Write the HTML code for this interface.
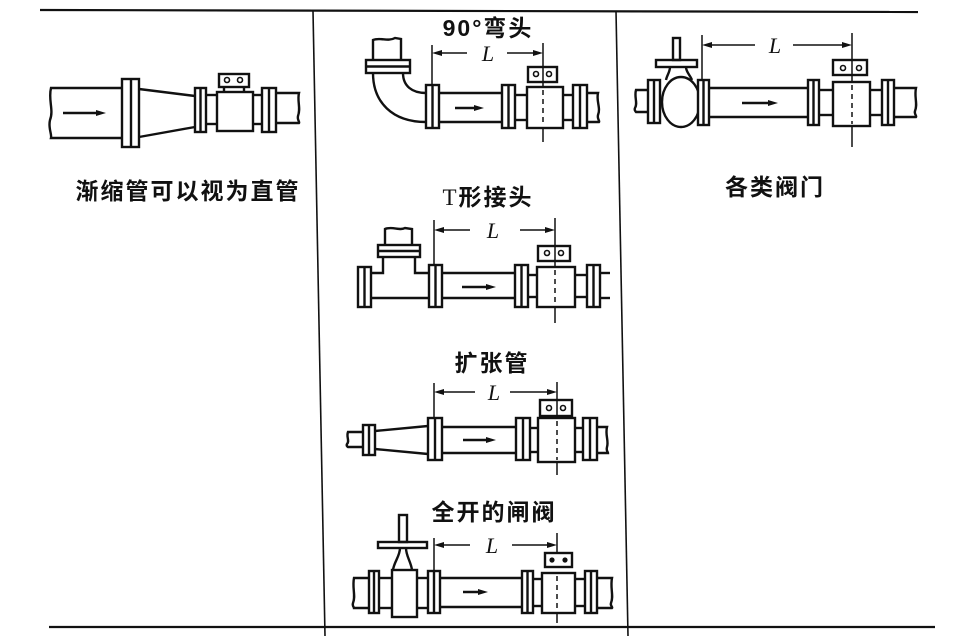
<!DOCTYPE html>
<html><head><meta charset="utf-8"><style>
html,body{margin:0;padding:0;background:#fff;}
svg{display:block;}
.t{font-family:"Liberation Sans","Noto Sans CJK SC",sans-serif;font-weight:bold;font-size:23px;fill:#111;letter-spacing:2px;}
.L{font-family:"Liberation Serif",serif;font-style:italic;font-size:22px;fill:#111;}
</style></head><body>
<svg width="953" height="636" viewBox="0 0 953 636" xmlns="http://www.w3.org/2000/svg">
<g stroke="#111" fill="none" stroke-width="2.4">
<!-- table lines -->
<line x1="40" y1="10" x2="918" y2="12" stroke-width="2.2"/>
<line x1="49" y1="627" x2="935" y2="627" stroke-width="2.2"/>
<line x1="313" y1="11" x2="325" y2="636" stroke-width="1.6"/>
<line x1="616" y1="11" x2="628" y2="636" stroke-width="1.6"/>

<!-- ===== Panel 1 ===== -->
<path d="M122,88 L51,88 C48,100 54,110 50,120 C48,128 52,134 51,138 L122,138"/>
<rect x="122" y="79" width="17" height="68"/><line x1="131" y1="79" x2="131" y2="147"/>
<line x1="139" y1="89" x2="195" y2="96"/><line x1="139" y1="137" x2="195" y2="127"/>
<rect x="195" y="88" width="11" height="44"/><line x1="200.5" y1="88" x2="200.5" y2="132"/>
<line x1="206" y1="95" x2="217" y2="95"/><line x1="206" y1="124" x2="217" y2="124"/>
<rect x="217" y="92" width="36" height="39"/>
<rect x="219" y="74" width="30" height="13"/>
<circle cx="227" cy="80" r="2.5" stroke-width="1.6"/><circle cx="240" cy="80" r="2.5" stroke-width="1.6"/>
<line x1="224" y1="87" x2="224" y2="92"/><line x1="244" y1="87" x2="244" y2="92"/>
<line x1="253" y1="95" x2="262" y2="95"/><line x1="253" y1="124" x2="262" y2="124"/>
<rect x="262" y="88" width="14" height="44"/><line x1="269" y1="88" x2="269" y2="132"/>
<path d="M276,93 L299,93 C297,101 301,108 298,116 C297,120 300,122 299,123 L276,123"/>
<line x1="63" y1="113" x2="98" y2="113"/>

<!-- ===== Panel 2: elbow ===== -->
<path d="M373,60 L373,40 C380,37 388,42 395,38 L401,39 L401,60"/>
<rect x="366" y="60" width="44" height="13"/><line x1="366" y1="66.5" x2="410" y2="66.5"/>
<path d="M373,73 C373,102 392,122 426,122"/>
<path d="M403,73 C403,86 412,93 426,93"/>
<rect x="426" y="85" width="13" height="43"/><line x1="432.5" y1="85" x2="432.5" y2="128"/>
<line x1="439" y1="93" x2="502" y2="93"/><line x1="439" y1="122" x2="502" y2="122"/>
<line x1="455" y1="108" x2="476" y2="108"/>
<rect x="502" y="85" width="13" height="43"/><line x1="508.5" y1="85" x2="508.5" y2="128"/>
<line x1="515" y1="95" x2="527" y2="95"/><line x1="515" y1="120" x2="527" y2="120"/>
<rect x="527" y="87" width="36" height="41"/>
<rect x="528" y="67" width="29" height="15"/>
<circle cx="536" cy="74" r="2.5" stroke-width="1.6"/><circle cx="549" cy="74" r="2.5" stroke-width="1.6"/>
<line x1="563" y1="95" x2="573" y2="95"/><line x1="563" y1="120" x2="573" y2="120"/>
<rect x="573" y="85" width="14" height="43"/><line x1="580" y1="85" x2="580" y2="128"/>
<path d="M587,93 L598,93 C596,101 601,108 598,115 C597,119 600,121 599,122 L587,122"/>
<g stroke-width="1.5">
<line x1="432" y1="45" x2="432" y2="85"/>
<line x1="543" y1="43" x2="543" y2="87"/><line x1="543" y1="128" x2="543" y2="142"/>
<line x1="543" y1="90" x2="543" y2="126" stroke-dasharray="5,4"/>
<line x1="438" y1="53" x2="467" y2="53"/><line x1="507" y1="53" x2="537" y2="53"/>
</g>

<!-- ===== Panel 2: T joint ===== -->
<rect x="358" y="267" width="13" height="40"/><line x1="364.5" y1="267" x2="364.5" y2="307"/>
<path d="M371,273 L383,273 L383,257"/><path d="M415,257 L415,273 L429,273"/>
<line x1="371" y1="298" x2="429" y2="298"/>
<rect x="378" y="245" width="42" height="12"/><line x1="378" y1="251" x2="420" y2="251"/>
<path d="M385,245 L385,229 C392,226 400,231 405,228 L412,229 L412,245"/>
<rect x="429" y="265" width="13" height="42"/><line x1="435.5" y1="265" x2="435.5" y2="307"/>
<line x1="442" y1="273" x2="515" y2="273"/><line x1="442" y1="298" x2="515" y2="298"/>
<line x1="462" y1="287" x2="488" y2="287"/>
<rect x="515" y="265" width="13" height="42"/><line x1="521.5" y1="265" x2="521.5" y2="307"/>
<line x1="528" y1="275" x2="537" y2="275"/><line x1="528" y1="297" x2="537" y2="297"/>
<rect x="537" y="267" width="38" height="40"/>
<rect x="538" y="246" width="32" height="15"/>
<circle cx="547" cy="253" r="2.5" stroke-width="1.6"/><circle cx="561" cy="253" r="2.5" stroke-width="1.6"/>
<line x1="575" y1="275" x2="587" y2="275"/><line x1="575" y1="297" x2="587" y2="297"/>
<rect x="587" y="265" width="13" height="42"/><line x1="593.5" y1="265" x2="593.5" y2="307"/>
<line x1="600" y1="273" x2="610" y2="273"/><line x1="600" y1="298" x2="610" y2="298"/>
<g stroke-width="1.5">
<line x1="434" y1="220" x2="434" y2="265"/>
<line x1="555" y1="218" x2="555" y2="267"/><line x1="555" y1="307" x2="555" y2="323"/>
<line x1="555" y1="270" x2="555" y2="305" stroke-dasharray="5,4"/>
<line x1="440" y1="230" x2="470" y2="230"/><line x1="520" y1="230" x2="549" y2="230"/>
</g>

<!-- ===== Panel 2: expander ===== -->
<path d="M363,432 L348,432 C346,437 350,441 347,444 C346,446 348,447 348,447 L363,447"/>
<rect x="363" y="425" width="12" height="30"/><line x1="369" y1="425" x2="369" y2="455"/>
<line x1="375" y1="431" x2="428" y2="426"/><line x1="375" y1="449" x2="428" y2="454"/>
<rect x="428" y="418" width="14" height="42"/><line x1="435" y1="418" x2="435" y2="460"/>
<line x1="442" y1="427" x2="516" y2="427"/><line x1="442" y1="453" x2="516" y2="453"/>
<line x1="463" y1="440" x2="488" y2="440"/>
<rect x="516" y="418" width="14" height="42"/><line x1="523" y1="418" x2="523" y2="460"/>
<line x1="530" y1="428" x2="538" y2="428"/><line x1="530" y1="452" x2="538" y2="452"/>
<rect x="538" y="418" width="37" height="44"/>
<rect x="540" y="400" width="32" height="16"/>
<circle cx="549" cy="408" r="2.5" stroke-width="1.6"/><circle cx="563" cy="408" r="2.5" stroke-width="1.6"/>
<line x1="575" y1="428" x2="583" y2="428"/><line x1="575" y1="452" x2="583" y2="452"/>
<rect x="583" y="418" width="14" height="42"/><line x1="590" y1="418" x2="590" y2="460"/>
<path d="M597,427 L607,427 C605,435 609,441 607,447 C606,451 608,452 608,453 L597,453"/>
<g stroke-width="1.5">
<line x1="434" y1="383" x2="434" y2="418"/>
<line x1="557" y1="382" x2="557" y2="418"/><line x1="557" y1="462" x2="557" y2="475"/>
<line x1="557" y1="421" x2="557" y2="460" stroke-dasharray="5,4"/>
<line x1="440" y1="392" x2="475" y2="392"/><line x1="510" y1="392" x2="551" y2="392"/>
</g>

<!-- ===== Panel 2: gate valve ===== -->
<rect x="399" y="515" width="8" height="27"/>
<rect x="378" y="542" width="49" height="6"/>
<path d="M400,548 C400,556 394,562 393,570 M406,548 C406,556 411,562 412,570"/>
<rect x="392" y="570" width="25" height="47"/>
<path d="M369,578 L354,578 C352,588 356,596 353,603 C352,606 354,607 354,608 L369,608"/>
<rect x="369" y="571" width="10" height="42"/><line x1="374" y1="571" x2="374" y2="613"/>
<line x1="379" y1="578" x2="392" y2="578"/><line x1="379" y1="608" x2="392" y2="608"/>
<line x1="417" y1="578" x2="428" y2="578"/><line x1="417" y1="608" x2="428" y2="608"/>
<rect x="428" y="571" width="12" height="42"/><line x1="434" y1="571" x2="434" y2="613"/>
<line x1="440" y1="578" x2="522" y2="578"/><line x1="440" y1="607" x2="522" y2="607"/>
<line x1="463" y1="592" x2="480" y2="592"/>
<rect x="522" y="571" width="11" height="42"/><line x1="527.5" y1="571" x2="527.5" y2="613"/>
<line x1="533" y1="579" x2="542" y2="579"/><line x1="533" y1="606" x2="542" y2="606"/>
<rect x="542" y="573" width="33" height="40"/>
<rect x="545" y="553" width="27" height="14"/>
<line x1="575" y1="579" x2="585" y2="579"/><line x1="575" y1="606" x2="585" y2="606"/>
<rect x="585" y="571" width="12" height="42"/><line x1="591" y1="571" x2="591" y2="613"/>
<path d="M597,578 L612,578 C610,588 614,596 611,603 C610,606 613,607 612,608 L597,608"/>
<g stroke-width="1.5">
<line x1="434" y1="538" x2="434" y2="571"/>
<line x1="557" y1="533" x2="557" y2="553"/><line x1="557" y1="613" x2="557" y2="623"/>
<line x1="557" y1="576" x2="557" y2="611" stroke-dasharray="5,4"/>
<line x1="440" y1="545" x2="470" y2="545"/><line x1="512" y1="545" x2="551" y2="545"/>
</g>

<!-- ===== Panel 3: valves ===== -->
<rect x="673" y="38" width="7" height="22"/>
<rect x="656" y="60" width="41" height="7"/>
<path d="M670,67 C670,72 667,75 666,80 M686,67 C686,72 690,75 692,80"/>
<ellipse cx="681" cy="102" rx="19" ry="25"/>
<path d="M648,90 L636,90 C634,97 638,103 635,108 C634,110 636,112 636,112 L648,112"/>
<rect x="648" y="80" width="12" height="43" fill="#fff"/><line x1="654" y1="80" x2="654" y2="123"/>
<rect x="698" y="80" width="11" height="45" fill="#fff"/><line x1="703.5" y1="80" x2="703.5" y2="125"/>
<line x1="709" y1="88" x2="808" y2="88"/><line x1="709" y1="117" x2="808" y2="117"/>
<line x1="742" y1="103" x2="770" y2="103"/>
<rect x="808" y="80" width="11" height="45"/><line x1="813.5" y1="80" x2="813.5" y2="125"/>
<line x1="819" y1="90" x2="833" y2="90"/><line x1="819" y1="115" x2="833" y2="115"/>
<rect x="833" y="82" width="37" height="44"/>
<rect x="833" y="60" width="34" height="15"/>
<circle cx="843" cy="68" r="2.5" stroke-width="1.6"/><circle cx="859" cy="68" r="2.5" stroke-width="1.6"/>
<line x1="870" y1="90" x2="882" y2="90"/><line x1="870" y1="115" x2="882" y2="115"/>
<rect x="882" y="80" width="12" height="45"/><line x1="888" y1="80" x2="888" y2="125"/>
<path d="M894,88 L916,88 C914,97 918,104 915,111 C914,114 917,116 916,117 L894,117"/>
<g stroke-width="1.5">
<line x1="702" y1="35" x2="702" y2="80"/>
<line x1="852" y1="33" x2="852" y2="82"/><line x1="852" y1="126" x2="852" y2="147"/>
<line x1="852" y1="85" x2="852" y2="124" stroke-dasharray="5,4"/>
<line x1="708" y1="45" x2="755" y2="45"/><line x1="793" y1="45" x2="846" y2="45"/>
</g>
</g>

<!-- filled arrowheads and dots -->
<g fill="#111" stroke="none">
<polygon points="96,110 106,113 96,116"/>
<polygon points="474,105 484,108 474,111"/>
<polygon points="486,284 496,287 486,290"/>
<polygon points="486,437 496,440 486,443"/>
<polygon points="478,589 488,592 478,595"/>
<polygon points="768,100 778,103 768,106"/>
<polygon points="432,53 442,50 442,56"/><polygon points="543,53 533,50 533,56"/>
<polygon points="434,230 444,227 444,233"/><polygon points="555,230 545,227 545,233"/>
<polygon points="434,392 444,389 444,395"/><polygon points="557,392 547,389 547,395"/>
<polygon points="434,545 444,542 444,548"/><polygon points="557,545 547,542 547,548"/>
<polygon points="702,45 712,42 712,48"/><polygon points="852,45 842,42 842,48"/>
<circle cx="552" cy="560" r="2.6"/><circle cx="565" cy="560" r="2.6"/>
</g>

<!-- labels -->
<text class="t" x="188" y="191" text-anchor="middle" dominant-baseline="central">渐缩管可以视为直管</text>
<text class="t" x="488" y="28" text-anchor="middle" dominant-baseline="central">90°弯头</text>
<text class="t" x="488" y="197" text-anchor="middle" dominant-baseline="central"><tspan font-family="Liberation Serif, serif" font-weight="normal">T</tspan>形接头</text>
<text class="t" x="492" y="363" text-anchor="middle" dominant-baseline="central">扩张管</text>
<text class="t" x="494" y="512" text-anchor="middle" dominant-baseline="central">全开的闸阀</text>
<text class="t" x="775" y="187" text-anchor="middle" dominant-baseline="central">各类阀门</text>

<text class="L" x="488" y="61" text-anchor="middle">L</text>
<text class="L" x="493" y="238" text-anchor="middle">L</text>
<text class="L" x="494" y="400" text-anchor="middle">L</text>
<text class="L" x="492" y="553" text-anchor="middle">L</text>
<text class="L" x="775" y="53" text-anchor="middle">L</text>
</svg>
</body></html>
